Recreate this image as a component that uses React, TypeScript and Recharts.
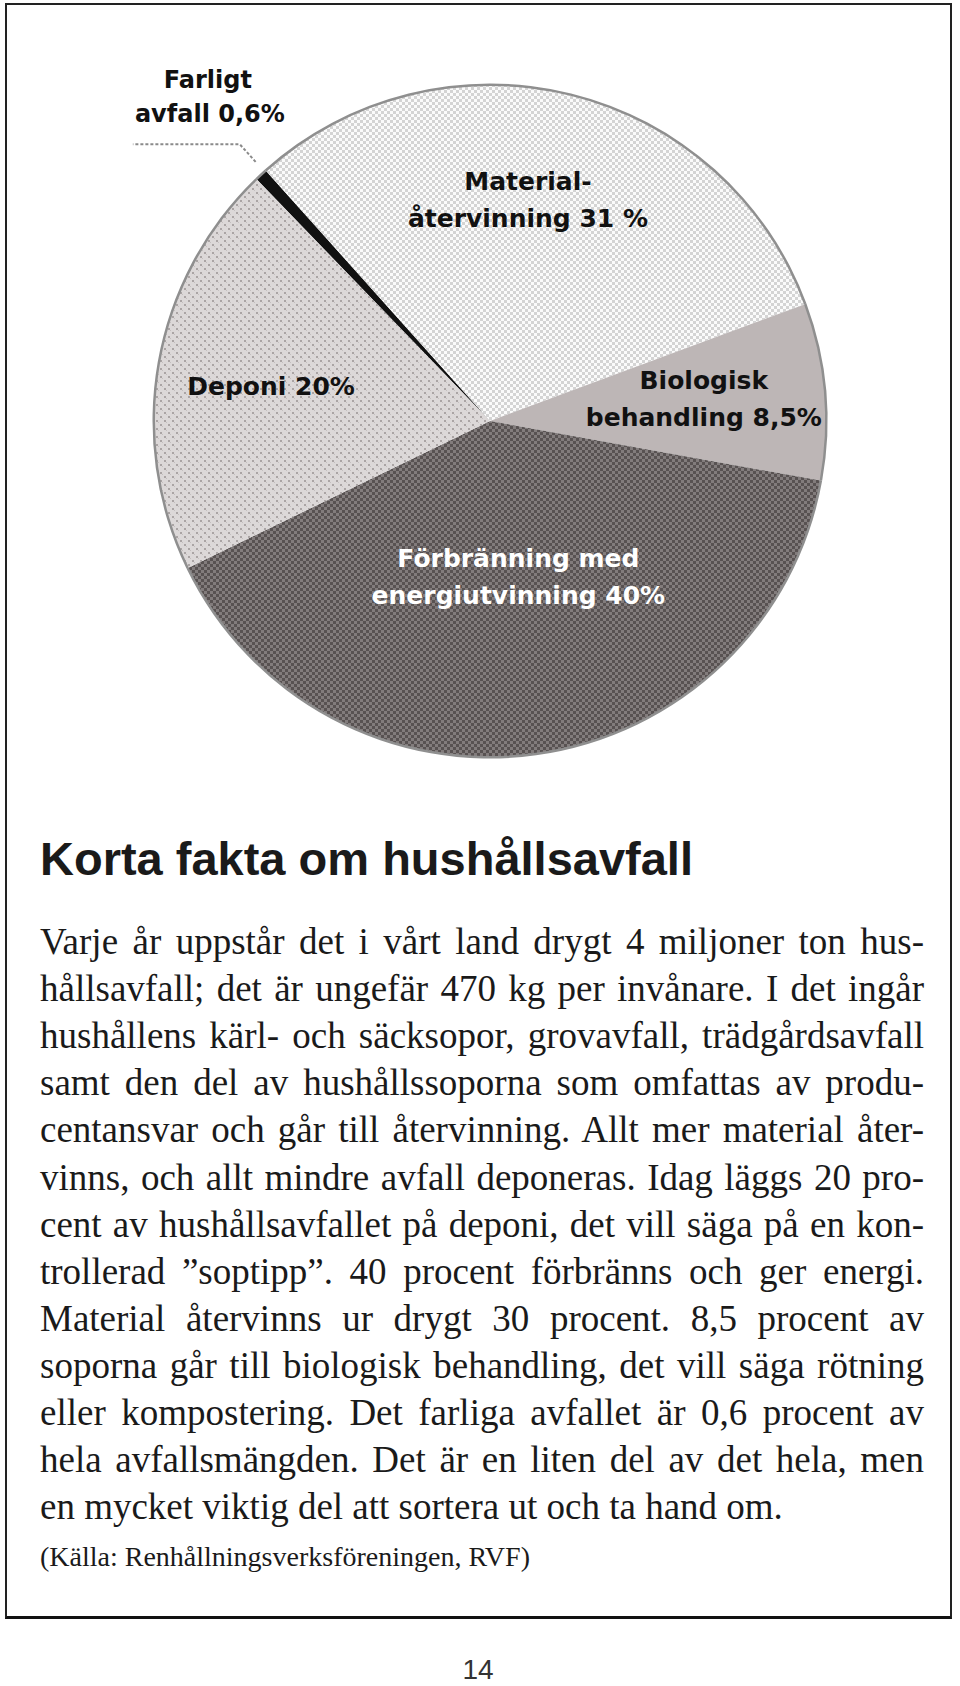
import React from 'react';
import { PieChart, Pie, Cell } from 'recharts';

// ---- data ----
const categories = ['Farligt avfall', 'Materialåtervinning', 'Biologisk behandling', 'Förbränning med energiutvinning', 'Deponi'];
const shares = [0.6, 31, 8.5, 40, 20];
const sliceLabels = [
  ['Farligt', 'avfall 0,6%'],
  ['Material-', 'återvinning 31 %'],
  ['Biologisk', 'behandling 8,5%'],
  ['Förbränning med', 'energiutvinning 40%'],
  ['Deponi 20%'],
];
const heading = 'Korta fakta om hushållsavfall';
const bodyLines = [
  'Varje år uppstår det i vårt land drygt 4 miljoner ton hus-',
  'hållsavfall; det är ungefär 470 kg per invånare. I det ingår',
  'hushållens kärl- och säcksopor, grovavfall, trädgårdsavfall',
  'samt den del av hushållssoporna som omfattas av produ-',
  'centansvar och går till återvinning. Allt mer material åter-',
  'vinns, och allt mindre avfall deponeras. Idag läggs 20 pro-',
  'cent av hushållsavfallet på deponi, det vill säga på en kon-',
  'trollerad ”soptipp”. 40 procent förbränns och ger energi.',
  'Material återvinns ur drygt 30 procent. 8,5 procent av',
  'soporna går till biologisk behandling, det vill säga rötning',
  'eller kompostering. Det farliga avfallet är 0,6 procent av',
  'hela avfallsmängden. Det är en liten del av det hela, men',
  'en mycket viktig del att sortera ut och ta hand om.',
];
const sourceText = '(Källa: Renhållningsverksföreningen, RVF)';
const pageNumber = '14';

const data = categories.map((name, i) => ({ name, value: shares[i], lines: sliceLabels[i] }));

// ---- styles ----
const fills = ['#111111', 'url(#patMat)', '#bdb6b6', 'url(#patForb)', 'url(#patDep)'];
const labelColors = ['#111', '#111', '#111', '#fff', '#111'];
// radial fraction of radius, angular offset (deg) for labels
const labelPlace = [
  { r: 1.04, da: -0.8 },
  { r: 0.67, da: 4.2 },
  { r: 0.64, da: 1.0 },
  { r: 0.47, da: 2.5 },
  { r: 0.66, da: 0.9 },
];
const RAD = Math.PI / 180;
const LABEL_FONT = 'DejaVu Sans, Verdana, sans-serif';

const renderLabel = (props: any) => {
  const { cx, cy, midAngle, outerRadius, index } = props;
  const place = labelPlace[index];
  const ang = (midAngle + place.da) * RAD;
  const lines: string[] = data[index].lines;
  if (index === 0) {
    const sx = cx + outerRadius * place.r * Math.cos(ang);
    const sy = cy - outerRadius * place.r * Math.sin(ang);
    const ex = cx + outerRadius * 1.11 * Math.cos(ang);
    const ey = cy - outerRadius * 1.11 * Math.sin(ang);
    const hx = ex - 107;
    return (
      <g key="lbl0">
        <polyline points={`${sx},${sy} ${ex},${ey} ${hx},${ey}`} fill="none" stroke="#8a8a8a" strokeWidth={2} strokeDasharray="3 2" />
        <text x={ex - 32} y={ey - 56} textAnchor="middle" fontFamily={LABEL_FONT} fontWeight="bold" fontSize={24} fill="#111">{lines[0]}</text>
        <text x={ex - 30} y={ey - 22} textAnchor="middle" fontFamily={LABEL_FONT} fontWeight="bold" fontSize={24} fill="#111">{lines[1]}</text>
      </g>
    );
  }
  const x = cx + outerRadius * place.r * Math.cos(ang);
  const y = cy - outerRadius * place.r * Math.sin(ang);
  if (lines.length === 1) {
    return (
      <text key={`lbl${index}`} x={x} y={y + 9} textAnchor="middle" fontFamily={LABEL_FONT} fontWeight="bold" fontSize={25} fill={labelColors[index]}>{lines[0]}</text>
    );
  }
  return (
    <g key={`lbl${index}`}>
      <text x={x} y={y - 9.5} textAnchor="middle" fontFamily={LABEL_FONT} fontWeight="bold" fontSize={25} fill={labelColors[index]}>{lines[0]}</text>
      <text x={x} y={y + 27.5} textAnchor="middle" fontFamily={LABEL_FONT} fontWeight="bold" fontSize={25} fill={labelColors[index]}>{lines[1]}</text>
    </g>
  );
};

const BODY_FONT = '"Liberation Serif", "Times New Roman", serif';

export default function App() {
  return (
    <div style={{ position: 'absolute', left: 0, top: 0, width: 960, height: 1686, background: '#fff', overflow: 'hidden' }}>
      <div style={{ position: 'absolute', left: 5, top: 3, width: 947, height: 1616, boxSizing: 'border-box', borderTop: '2px solid #222', borderLeft: '2px solid #222', borderRight: '2px solid #222', borderBottom: '3px solid #111' }} />
      <div style={{ position: 'absolute', left: 0, top: 0 }}>
        <PieChart width={960} height={800}>
          <defs>
            <pattern id="patMat" width="6" height="6" patternUnits="userSpaceOnUse">
              <rect width="6" height="6" fill="#fbfbfb" />
              <rect x="0" y="0" width="3" height="3" fill="#d4d4d4" />
              <rect x="3" y="3" width="3" height="3" fill="#d4d4d4" />
            </pattern>
            <pattern id="patForb" width="6" height="6" patternUnits="userSpaceOnUse">
              <rect width="6" height="6" fill="#827c7c" />
              <rect x="0" y="0" width="3" height="3" fill="#585252" />
              <rect x="3" y="3" width="3" height="3" fill="#585252" />
            </pattern>
            <pattern id="patDep" width="8" height="8" patternUnits="userSpaceOnUse">
              <rect width="8" height="8" fill="#dcd8d8" />
              <rect x="0" y="0" width="2" height="2" fill="#aaa4a4" />
              <rect x="4" y="4" width="2" height="2" fill="#aaa4a4" />
              <rect x="2" y="2" width="1" height="1" fill="#c4bfbf" />
              <rect x="6" y="6" width="1" height="1" fill="#c4bfbf" />
            </pattern>
          </defs>
          <Pie
            data={data}
            dataKey="value"
            nameKey="name"
            cx={485}
            cy={416}
            outerRadius={336}
            startAngle={134}
            endAngle={-226}
            stroke="none"
            isAnimationActive={false}
            labelLine={false}
            label={renderLabel}
          >
            {data.map((d, i) => (
              <Cell key={d.name} fill={fills[i]} stroke="none" />
            ))}
          </Pie>
          <Pie
            data={data}
            dataKey="value"
            cx={485}
            cy={416}
            innerRadius={335}
            outerRadius={337.5}
            startAngle={134}
            endAngle={-226}
            stroke="none"
            fill="#8f8f8f"
            isAnimationActive={false}
            label={false}
            labelLine={false}
          />
        </PieChart>
      </div>
      <div style={{ position: 'absolute', left: 40, top: 835, fontFamily: '"Liberation Sans", Arial, sans-serif', fontWeight: 'bold', fontSize: 47, lineHeight: '47px', color: '#1a1a1a', whiteSpace: 'nowrap' }}>
        {heading}
      </div>
      {bodyLines.map((line, i) => (
        <div
          key={i}
          style={{
            position: 'absolute',
            left: 40,
            top: 918 + i * 47.1,
            width: 884,
            height: 47,
            fontFamily: BODY_FONT,
            fontSize: 37,
            lineHeight: '47px',
            color: '#1a1a1a',
            textAlign: i === bodyLines.length - 1 ? 'left' : 'justify',
            textAlignLast: i === bodyLines.length - 1 ? 'left' : 'justify',
          } as React.CSSProperties}
        >
          {line}
        </div>
      ))}
      <div style={{ position: 'absolute', left: 40, top: 1543, fontFamily: BODY_FONT, fontSize: 28, lineHeight: '28px', color: '#1a1a1a', whiteSpace: 'nowrap' }}>
        {sourceText}
      </div>
      <div style={{ position: 'absolute', left: 428, width: 100, textAlign: 'center', top: 1657, height: 26, fontFamily: '"Liberation Sans", Arial, sans-serif', fontSize: 28, lineHeight: '26px', color: '#333' }}>
        {pageNumber}
      </div>
    </div>
  );
}
